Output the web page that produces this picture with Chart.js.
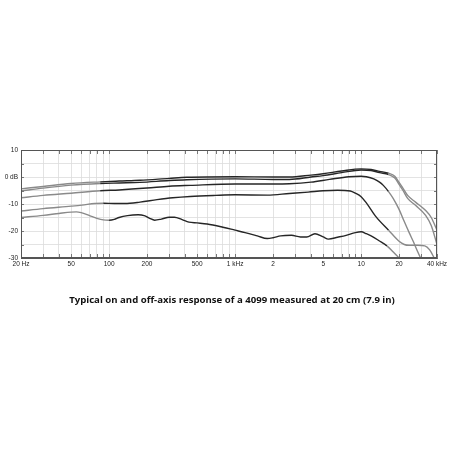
<!DOCTYPE html>
<html>
<head>
<meta charset="utf-8">
<script src="https://cdn.jsdelivr.net/npm/chart.js@4.4.1/dist/chart.umd.min.js"></script>
<style>
  html, body { margin: 0; padding: 0; background: #fff; }
  #wrap { position: relative; width: 450px; height: 450px; }
  #caption {
    position: absolute; left: 0; width: 464px; top: 293px;
    text-align: center; font: bold 9.6px "Open Sans", sans-serif; color: #111;
  }
</style>
</head>
<body>
<div id="wrap">
  <canvas id="c" width="450" height="450"></canvas>
  <div id="caption">Typical on and off-axis response of a 4099 measured at 20 cm (7.9 in)</div>
</div>
<script>
// --- data (Hz / dB) ---
const f1 = [20, 30, 50, 85, 120, 176, 300, 414, 1000, 2000, 2700, 4000, 5000, 7000, 10000, 12000, 14000, 16500, 18500, 20000, 21500, 23400, 27000, 32500, 36000, 40000];
const db1 = [-4.4, -3.5, -2.4, -1.8, -1.5, -1.2, -0.5, -0.1, 0.1, 0, 0, 0.7, 1.2, 2.2, 3.0, 2.8, 2.1, 1.4, 0.3, -2, -4.2, -6.8, -9.3, -12.4, -15, -19.7];
const db2 = [-5.2, -4.1, -3.0, -2.4, -2.2, -2.0, -1.3, -1.0, -0.7, -0.9, -0.9, 0, 0.5, 1.6, 2.6, 2.4, 1.6, 0.9, -0.4, -2.7, -5, -7.9, -10.5, -14.2, -18, -25];

const f3 = [20, 30, 50, 85, 120, 200, 300, 440, 1000, 2000, 2700, 4000, 5600, 8000, 10000, 11000, 12600, 14000, 15000, 16500, 18000, 20000, 22000, 24000, 26000, 28000, 30000, 32000];
const db3 = [-7.7, -6.8, -6.0, -5.1, -4.8, -4.1, -3.4, -3.1, -2.6, -2.6, -2.5, -1.9, -0.9, 0.1, 0.3, 0.1, -0.7, -1.9, -3.1, -5.4, -8, -12, -16.5, -20.5, -24, -27.5, -30.5, -33];

const f4 = [20, 30, 50, 61, 77, 90, 110, 133, 176, 240, 320, 440, 700, 1000, 1800, 2700, 3800, 5000, 6500, 8200, 9000, 10000, 11000, 13000, 16500, 20000, 22000, 24000, 28000, 32000, 35000, 38000, 40000];
const db4 = [-12.6, -11.7, -10.8, -10.4, -9.8, -9.7, -9.8, -9.8, -9.3, -8.4, -7.7, -7.2, -6.8, -6.6, -6.7, -6.1, -5.6, -5.1, -4.9, -5.2, -6.0, -7.3, -9.6, -14.5, -19.7, -23.8, -25, -25.3, -25.3, -25.5, -27, -30, -32];

const f5 = [20, 30, 40, 50, 55, 60, 70, 80, 90, 100, 110, 120, 140, 170, 190, 210, 230, 260, 300, 330, 380, 430, 500, 600, 800, 1000, 1200, 1500, 1800, 2000, 2300, 2800, 3300, 3700, 4300, 5000, 5500, 6500, 7600, 9000, 10000, 11000, 12000, 14000, 16000, 18000, 20000, 21000];
const db5 = [-15, -14.2, -13.5, -13, -12.9, -13.2, -14.3, -15.3, -15.9, -16, -15.7, -15, -14.3, -14, -14.3, -15.3, -16, -15.6, -14.9, -14.9, -15.8, -16.7, -17, -17.4, -18.6, -19.7, -20.6, -21.8, -22.8, -22.5, -21.8, -21.6, -22.2, -22.2, -21, -22.2, -23, -22.3, -21.6, -20.6, -20.3, -21, -21.8, -23.7, -25.5, -27.8, -30, -31];

// grid / tick positions
const gridFreqs = [20, 30, 40, 50, 60, 70, 80, 90, 100, 200, 300, 400, 500, 600, 700, 800, 900, 1000,
  2000, 3000, 4000, 5000, 6000, 7000, 8000, 9000, 10000, 20000, 30000, 40000];
const xLabels = { 20: '20 Hz', 50: '50', 100: '100', 200: '200', 500: '500', 1000: '1 kHz', 2000: '2', 5000: '5', 10000: '10', 20000: '20', 40000: '40 kHz' };
const yLabels = { 10: '10', 0: '0 dB', '-10': '-10', '-20': '-20', '-30': '-30' };

const DARK = '#262626', GRAY = '#8a8a8a';
const pts = (f, d) => f.map((x, i) => ({ x, y: d[i] }));
const mk = (f, d, lo) => ({
  data: pts(f, d),
  borderWidth: 1.4,
  borderColor: DARK,
  pointRadius: 0,
  cubicInterpolationMode: 'monotone',
  segment: {
    borderColor: c => (c.p0.parsed.x < lo || c.p1.parsed.x > 17000) ? GRAY : DARK
  }
});

// short tick marks drawn inside the frame
const innerTicks = {
  id: 'innerTicks',
  afterDatasetsDraw(chart) {
    const { ctx, chartArea: a, scales: { x, y } } = chart;
    ctx.save();
    ctx.strokeStyle = '#777';
    ctx.lineWidth = 1;
    ctx.beginPath();
    gridFreqs.forEach(v => {
      const px = Math.round(x.getPixelForValue(v)) + 0.5;
      ctx.moveTo(px, a.top); ctx.lineTo(px, a.top + 4);
      ctx.moveTo(px, a.bottom); ctx.lineTo(px, a.bottom - 4);
    });
    for (let v = -25; v < 10; v += 5) {
      const py = Math.round(y.getPixelForValue(v)) + 0.5;
      ctx.moveTo(a.left, py); ctx.lineTo(a.left + 3, py);
      ctx.moveTo(a.right, py); ctx.lineTo(a.right - 3, py);
    }
    ctx.stroke();
    ctx.restore();
  }
};

new Chart(document.getElementById('c'), {
  type: 'line',
  data: {
    datasets: [mk(f1, db1, 85), mk(f1, db2, 85), mk(f3, db3, 85), mk(f4, db4, 85), mk(f5, db5, 100)]
  },
  options: {
    responsive: false,
    animation: false,
    layout: { padding: { left: 0, right: 13, top: 150, bottom: 172 } },
    plugins: { legend: { display: false }, tooltip: { enabled: false } },
    scales: {
      x: {
        type: 'logarithmic',
        min: 20, max: 40000,
        afterBuildTicks: s => { s.ticks = gridFreqs.map(v => ({ value: v })); },
        afterFit: s => { s.height = 20; },
        ticks: {
          autoSkip: false, maxRotation: 0, padding: 2,
          color: '#222', font: { size: 6.5, family: 'Liberation Sans' },
          callback: v => xLabels[v] || ''
        },
        grid: { color: '#dcdcdc', lineWidth: 0.8, drawTicks: false },
        border: { color: '#555', width: 1 }
      },
      y: {
        min: -30, max: 10,
        afterFit: s => { s.width = 21; },
        ticks: {
          stepSize: 5, padding: 3,
          color: '#222', font: { size: 6.5, family: 'Liberation Sans' },
          callback: v => yLabels[v] || ''
        },
        grid: { color: '#dcdcdc', lineWidth: 0.8, drawTicks: false },
        border: { color: '#555', width: 1 }
      }
    }
  },
  plugins: [innerTicks, {
    id: 'frame',
    afterDraw(chart) {
      const { ctx, chartArea: a } = chart;
      ctx.save();
      ctx.strokeStyle = '#555';
      ctx.lineWidth = 1;
      ctx.strokeRect(a.left + 0.5, a.top + 0.5, a.right - a.left - 1, a.bottom - a.top - 1);
      ctx.restore();
    }
  }]
});
</script>
</body>
</html>
